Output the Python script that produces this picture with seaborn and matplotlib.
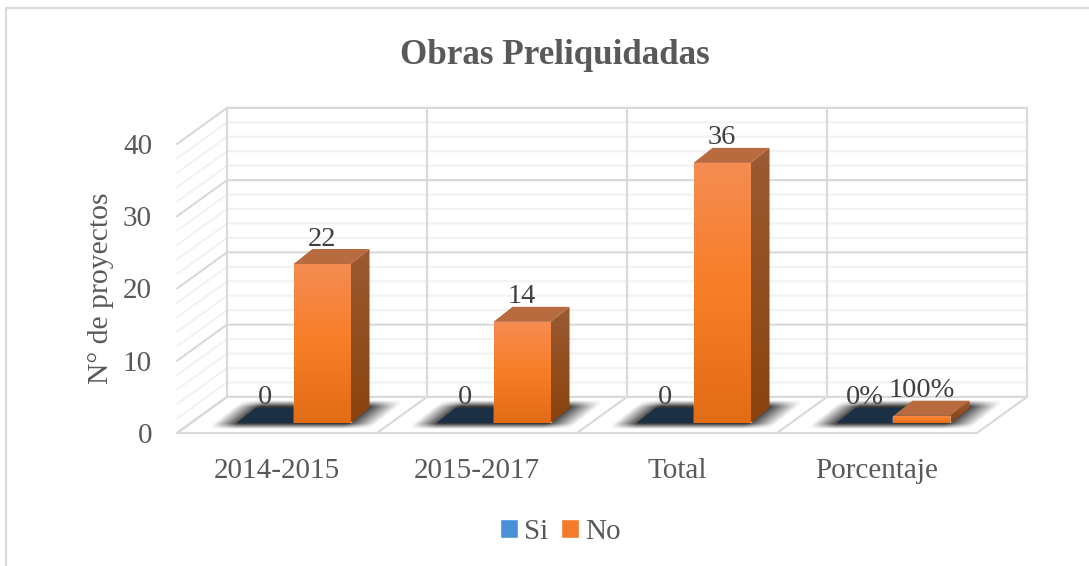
import numpy as np
import pandas as pd
import matplotlib
matplotlib.use("Agg")
import matplotlib.pyplot as plt
import seaborn as sns
from matplotlib.colors import LinearSegmentedColormap
from matplotlib.lines import Line2D
from matplotlib.patches import Polygon

categories = ["2014-2015", "2015-2017", "Total", "Porcentaje"]
si_values = [0, 0, 0, 0]
no_values = [22, 14, 36, 1]
si_labels = ["0", "0", "0", "0%"]
no_labels = ["22", "14", "36", "100%"]
y_ticks = [0, 10, 20, 30, 40]

W, H = 1089, 566
DARK_TEXT = "#404040"
TEXT = "#595959"
MAJOR = "#D9D9D9"
MINOR = "#F2F2F2"

# profundidad de la caja y de las barras, en unidades de datos
WALL_DX, WALL_DY = 0.25, 5.0
BAR_DX, BAR_DY = 0.095, 2.08

sns.set_theme(style="white")
plt.rcParams["font.family"] = ["Liberation Serif", "DejaVu Serif"]

df = pd.DataFrame({
    "categoria": categories * 2,
    "serie": ["Si"] * 4 + ["No"] * 4,
    "valor": si_values + no_values,
})

fig = plt.figure(figsize=(W / 100, H / 100), dpi=100)


def axes_at(left, base, width=800, height=289):
    return fig.add_axes([left / W, 1 - base / H, width / W, height / H])


# borde del grafico
fig.add_artist(Line2D([6 / W, 6 / W], [0, 1 - 8 / H], color=MAJOR, lw=1.5))
fig.add_artist(Line2D([6 / W, 1], [1 - 8 / H, 1 - 8 / H], color=MAJOR, lw=1.5))

# caja: plano frontal con las etiquetas de los ejes
ax = axes_at(177, 433)
ax.set_xlim(-0.5, 3.5)
ax.set_ylim(0, 40)
ax.patch.set_visible(False)
sns.despine(ax=ax, left=True, bottom=True)
ax.set_xticks(range(4), categories)
ax.set_yticks(y_ticks)
ax.tick_params(axis="x", length=0, pad=18, labelsize=21, labelcolor=TEXT)
ax.tick_params(axis="y", length=0, pad=18, labelsize=21, labelcolor=TEXT)
ax.set_ylabel("N° de proyectos", fontsize=21.3, color=TEXT)
ax.yaxis.set_label_coords(-63 / 800, 0.5)

x0, x1 = ax.get_xlim()
for level in range(0, 41, 2):
    color = MAJOR if level % 10 == 0 else MINOR
    ax.plot([x0, x0 + WALL_DX, x1 + WALL_DX], [level, level + WALL_DY, level + WALL_DY],
            color=color, lw=1.5, clip_on=False, zorder=1 if level % 10 else 2)
for edge in np.arange(x0, x1 + 1):
    ax.plot([edge + WALL_DX] * 2, [WALL_DY, 40 + WALL_DY], color=MAJOR, lw=1.5, clip_on=False, zorder=2)
    ax.plot([edge, edge + WALL_DX], [0, WALL_DY], color=MAJOR, lw=1.5, clip_on=False, zorder=2)
ax.plot([x0, x1], [0, 0], color=MAJOR, lw=1.5, clip_on=False, zorder=2)

# barras: plano adelantado sobre el piso
ax_bars = axes_at(193.5, 423)
ax_bars.patch.set_visible(False)
sns.barplot(data=df, x="categoria", y="valor", hue="serie", hue_order=["Si", "No"],
            palette={"Si": "#4A90D9", "No": "#F47B2B"}, width=0.57, saturation=1,
            ax=ax_bars)
ax_bars.set_axis_off()

front_cmap = LinearSegmentedColormap.from_list("front", ["#E36C17", "#F87D26", "#F58C52"])
side_cmap = LinearSegmentedColormap.from_list("side", ["#8A430D", "#9B5A33"])
ramp = np.linspace(1, 0, 64)[:, None]


def gradient(poly_points, cmap, zorder):
    pts = np.array(poly_points)
    poly = Polygon(pts, closed=True, facecolor="none", edgecolor="none", transform=ax_bars.transData)
    ax_bars.add_patch(poly)
    im = ax_bars.imshow(ramp, cmap=cmap, vmin=0, vmax=1, aspect="auto", zorder=zorder,
                        extent=(pts[:, 0].min(), pts[:, 0].max(), pts[:, 1].min(), pts[:, 1].max()))
    im.set_clip_path(poly)


si_bars, no_bars = ax_bars.containers

# sombra difusa bajo cada grupo
gx = np.linspace(-0.6, 0.7, 260)
gy = np.linspace(-1.4, 3.8, 100)
XX, YY = np.meshgrid(gx, gy)
UU = XX - YY * BAR_DX / BAR_DY
ramp_u = np.clip((UU + 0.40) / 0.13, 0, 1) * np.clip((0.42 - UU) / 0.15, 0, 1)
ramp_v = np.clip((YY + 0.85) / 0.75, 0, 1) * np.clip((3.1 - YY) / 0.9, 0, 1)
shadow = np.zeros(XX.shape + (4,))
shadow[..., 3] = 0.8 * ramp_u * ramp_v

for si_bar, no_bar in zip(si_bars, no_bars):
    centre = si_bar.get_x() + si_bar.get_width()
    im = ax_bars.imshow(shadow, aspect="auto", origin="lower", zorder=0.5,
                        extent=(centre + gx[0], centre + gx[-1], gy[0], gy[-1]))
    im.set_clip_on(False)

    left, width = si_bar.get_x(), si_bar.get_width()
    ax_bars.add_patch(Polygon([(left, 0), (left + width, 0), (left + width + BAR_DX, BAR_DY),
                               (left + BAR_DX, BAR_DY)], closed=True, facecolor="#1B2F45",
                              edgecolor="none", zorder=1))

    left, width, height = no_bar.get_x(), no_bar.get_width(), no_bar.get_height()
    right = left + width
    no_bar.set_zorder(2)
    gradient([(left, 0), (right, 0), (right, height), (left, height)], front_cmap, 3)
    gradient([(right, 0), (right + BAR_DX, BAR_DY), (right + BAR_DX, height + BAR_DY), (right, height)],
             side_cmap, 3)
    ax_bars.add_patch(Polygon([(left, height), (right, height), (right + BAR_DX, height + BAR_DY),
                               (left + BAR_DX, height + BAR_DY)], closed=True, facecolor="#B86B3E",
                              edgecolor="none", zorder=3))

ax_bars.set_xlim(-0.5, 3.5)
ax_bars.set_ylim(0, 40)

for bars, labels in ((si_bars, si_labels), (no_bars, no_labels)):
    ax_bars.bar_label(bars, labels=labels, padding=9, fontsize=20.5, color=DARK_TEXT, zorder=5)

sns.move_legend(ax_bars, "center", bbox_to_anchor=(560 / W, 1 - 532 / H), bbox_transform=fig.transFigure,
                ncol=2, title=None, frameon=False, fontsize=21, handlelength=0.62, handleheight=0.62,
                handletextpad=0.2, columnspacing=0.45, labelcolor=TEXT)

fig.text(555 / W, 1 - 55 / H, "Obras Preliquidadas", ha="center", va="center", fontsize=25.2,
         fontweight="bold", color=TEXT)

fig.savefig("out.png", dpi=100, facecolor="white")
